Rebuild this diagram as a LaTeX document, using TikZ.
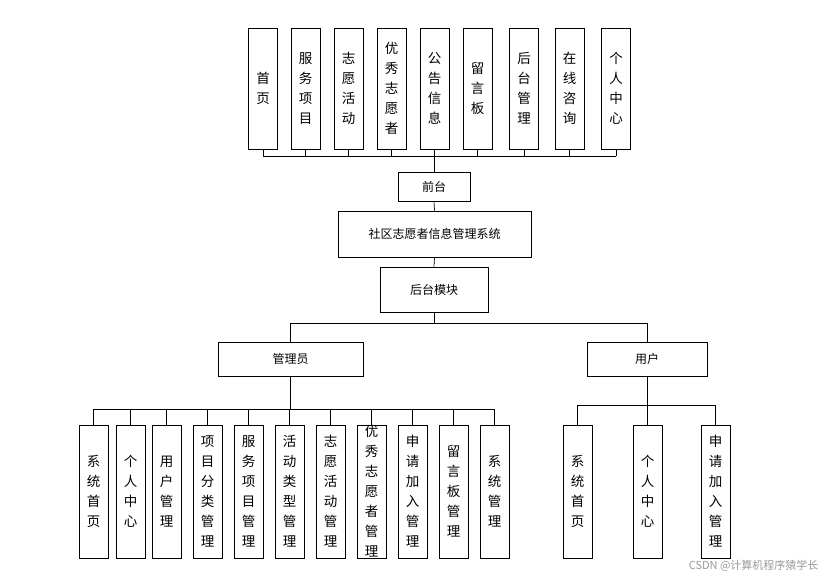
\documentclass[tikz,border=0pt]{standalone}
\usepackage{fontspec}
\setmainfont{Noto Sans CJK SC}
\begin{document}
\begin{tikzpicture}[x=1pt,y=-1pt,
  vbox/.style={draw,line width=0.7pt,minimum width=29pt,align=center,inner sep=0pt,font=\fontsize{13.5}{20}\selectfont},
  hbox/.style={draw,line width=0.7pt,inner sep=0pt,font=\fontsize{12}{14}\selectfont},
  ln/.style={line width=0.7pt}]
\useasboundingbox (0,0) rectangle (831,584);
% top
\foreach \n/\x/\t in {t1/263/首\\页,t2/305.5/服\\务\\项\\目,t3/348.5/志\\愿\\活\\动,t4/391.5/优\\秀\\志\\愿\\者,t5/434.5/公\\告\\信\\息,t6/477.5/留\\言\\板,t7/524/后\\台\\管\\理,t8/569.5/在\\线\\咨\\询,t9/616/个\\人\\中\\心}
  \node[vbox,minimum height=121pt] (\n) at (\x,88.5) {\t};
\node[hbox,minimum width=72pt,minimum height=29pt] (qt) at (434,186.5) {前台};
\node[hbox,minimum width=193pt,minimum height=46pt] (sys) at (434.5,234) {社区志愿者信息管理系统};
\node[hbox,minimum width=108pt,minimum height=45pt] (ht) at (434,289.5) {后台模块};
\node[hbox,minimum width=145pt,minimum height=34pt] (adm) at (290.5,359) {管理员};
\node[hbox,minimum width=120pt,minimum height=34pt] (usr) at (647,359) {用户};
\coordinate (bT) at (0,156);
\coordinate (bM) at (0,323);
\coordinate (bA) at (0,409);
\coordinate (bU) at (0,405);
\foreach \n in {t1,t2,t3,t4,t5,t6,t7,t8,t9} \draw[ln] (\n.south) -- (\n.south |- bT);
\draw[ln] (t1.south |- bT) -- (t9.south |- bT);
\draw[ln] (qt.north) -- (qt.north |- bT);
\draw[ln] (qt.south) -- (sys.north);
\draw[ln] (sys.south) -- (ht.north);
\draw[ln] (ht.south) -- (ht.south |- bM);
\draw[ln] (adm.north |- bM) -- (usr.north |- bM);
\draw[ln] (adm.north) -- (adm.north |- bM);
\draw[ln] (usr.north) -- (usr.north |- bM);
% admin children
\foreach \n/\x/\t in {a1/93.5/系\\统\\首\\页,a2/130.5/个\\人\\中\\心,a3/166.5/用\\户\\管\\理,a4/207.5/项\\目\\分\\类\\管\\理,a5/248.5/服\\务\\项\\目\\管\\理,a6/289.5/活\\动\\类\\型\\管\\理,a7/330.5/志\\愿\\活\\动\\管\\理,a8/371.5/优\\秀\\志\\愿\\者\\管\\理,a9/412.5/申\\请\\加\\入\\管\\理,a10/453.5/留\\言\\板\\管\\理,a11/494.5/系\\统\\管\\理}
  {\node[vbox,minimum height=133pt] (\n) at (\x,491.5) {\t};
   \draw[ln] (\n.north) -- (\n.north |- bA);}
\draw[ln] (a1.north |- bA) -- (a11.north |- bA);
\draw[ln,line width=1.2pt] (adm.south) -- (adm.south |- bA);
\foreach \n/\x/\t in {u1/577.5/系\\统\\首\\页,u2/647.5/个\\人\\中\\心,u3/715.5/申\\请\\加\\入\\管\\理}
  {\node[vbox,minimum height=133pt] (\n) at (\x,491.5) {\t};
   \draw[ln] (\n.north) -- (\n.north |- bU);}
\draw[ln] (u1.north |- bU) -- (u3.north |- bU);
\draw[ln] (usr.south) -- (usr.south |- bU);
\node[text=gray!80,font=\fontsize{11}{12}\selectfont,anchor=east] (wm) at (822,566) {CSDN @计算机程序猿学长};
\end{tikzpicture}
\end{document}
